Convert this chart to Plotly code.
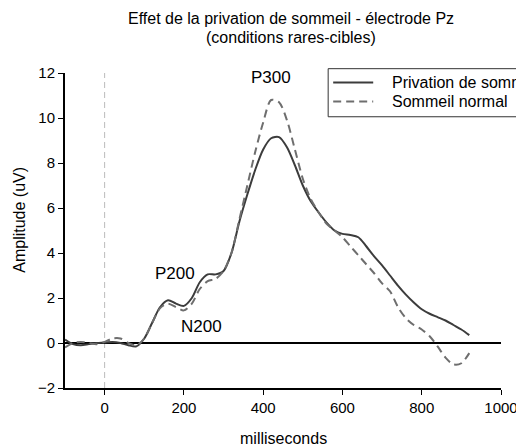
import plotly.graph_objects as go

time_ms = list(range(-100, 921, 20))

privation = [0.15, -0.05, -0.1, -0.05, 0.0, 0.02, 0.05, 0.0, -0.1, -0.15,
             0.2, 0.9, 1.6, 1.9, 1.75, 1.65, 2.0, 2.7, 3.05, 3.05,
             3.2, 4.0, 5.4, 6.6, 7.7, 8.6, 9.1, 9.15, 8.7, 7.9,
             7.0, 6.3, 5.8, 5.35, 5.0, 4.85, 4.8, 4.7, 4.3, 3.85,
             3.45, 3.0, 2.55, 2.15, 1.8, 1.5, 1.3, 1.15, 1.0, 0.8,
             0.6, 0.35]

normal = [-0.2, 0.0, 0.05, 0.0, -0.05, 0.05, 0.2, 0.2, 0.0, -0.1,
          0.2, 0.9, 1.55, 1.75, 1.6, 1.45, 1.75, 2.4, 2.75, 2.85,
          3.2, 4.0, 5.5, 7.0, 8.5, 9.8, 10.8, 10.7, 9.9, 8.6,
          7.3, 6.4, 5.8, 5.3, 5.0, 4.7, 4.3, 3.9, 3.5, 3.1,
          2.65, 2.3, 1.6, 1.1, 0.8, 0.6, 0.3, -0.15, -0.65, -0.95,
          -0.9, -0.45]

series_names = ["Privation de sommeil", "Sommeil normal"]
peak_labels = ["P300", "P200", "N200"]
peak_x = [420, 177, 244]
peak_y = [11.8, 3.1, 0.73]
title_lines = ["Effet de la privation de sommeil - électrode Pz", "(conditions rares-cibles)"]

FONT = "Liberation Sans, Arial, sans-serif"
COLORS = ["#3c3c3c", "#6e6e6e"]
DASHES = ["solid", "8px,5px"]

fig = go.Figure()
for name, vals, col, dsh in zip(series_names, [privation, normal], COLORS, DASHES):
    fig.add_trace(go.Scatter(x=time_ms, y=vals, mode="lines", name=name, showlegend=False,
                             line=dict(color=col, width=2, dash=dsh, shape="spline", smoothing=0.8)))

fig.add_shape(type="line", x0=0, x1=0, y0=-2, y1=12, xref="x", yref="y",
              line=dict(color="#bbbbbb", width=1, dash="6px,4px"), layer="below")

for t, xx, yy in zip(peak_labels, peak_x, peak_y):
    fig.add_annotation(x=xx, y=yy, text=t, showarrow=False,
                       font=dict(size=17, color="black", family=FONT))

# title lines
for t, yy in zip(title_lines, [1.1726, 1.1121]):
    fig.add_annotation(xref="paper", yref="paper", x=0.519, y=yy, text=t, showarrow=False,
                       xanchor="center", yanchor="middle",
                       font=dict(size=16, color="black", family=FONT))

# axis titles
fig.add_annotation(xref="paper", yref="paper", x=0.5, y=-0.159, text="milliseconds",
                   showarrow=False, xanchor="center", yanchor="middle",
                   font=dict(size=16, color="black", family=FONT))
fig.add_annotation(xref="paper", yref="paper", x=-0.1033, y=0.534, text="Amplitude (uV)",
                   showarrow=False, xanchor="center", yanchor="middle", textangle=-90,
                   font=dict(size=16, color="black", family=FONT))

# legend box (drawn manually to match the reference layout)
fig.add_shape(type="rect", xref="paper", yref="paper", x0=0.6036, x1=1.12, y0=0.8611, y1=1.0137,
              line=dict(color="#333333", width=1), fillcolor="white", layer="above")
for name, col, dsh, yy in zip(series_names, COLORS, DASHES, [0.9701, 0.9098]):
    fig.add_shape(type="line", xref="paper", yref="paper", x0=0.6151, x1=0.7069, y0=yy, y1=yy,
                  line=dict(color=col, width=2, dash=dsh), layer="above")
    fig.add_annotation(xref="paper", yref="paper", x=0.7459, y=yy, text=name, showarrow=False,
                       xanchor="left", yanchor="middle",
                       font=dict(size=16, color="black", family=FONT))

fig.update_layout(
    width=516, height=446,
    paper_bgcolor="white", plot_bgcolor="white",
    margin=dict(l=65, r=15, t=73, b=58, autoexpand=False),
    font=dict(family=FONT, size=15, color="black"),
    showlegend=False,
)

fig.update_xaxes(range=[-100, 1000], tickvals=[0, 200, 400, 600, 800, 1000],
                 showgrid=False, zeroline=False, showline=True, linecolor="black", linewidth=2,
                 ticks="outside", ticklen=5, tickcolor="black", tickwidth=1,
                 ticklabeloverflow="allow", tickfont=dict(size=15))
fig.update_yaxes(range=[-2, 12], tickvals=[-2, 0, 2, 4, 6, 8, 10, 12],
                 showgrid=False, zeroline=True, zerolinecolor="black", zerolinewidth=2,
                 showline=True, linecolor="black", linewidth=2,
                 ticks="outside", ticklen=5, tickcolor="black", tickwidth=1,
                 tickfont=dict(size=15))

fig.write_html("out.html", config={"displayModeBar": False},
               post_script="document.body.style.margin='0';")
